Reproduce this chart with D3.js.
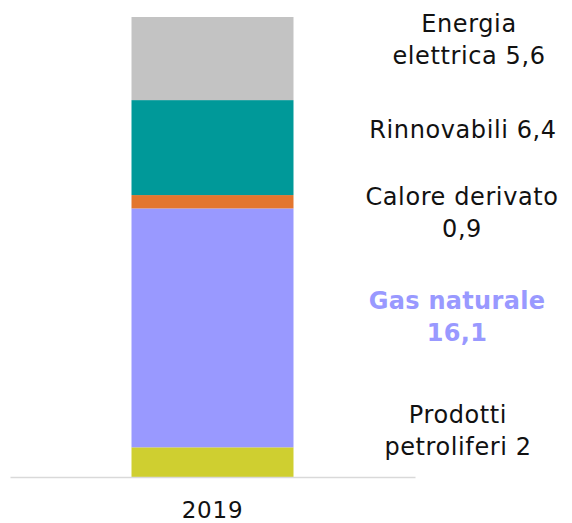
<!DOCTYPE html>
<html lang="en">

<head>
    <meta charset="utf-8">
    <title>Consumi 2019</title>
    <script src="https://d3js.org/d3.v7.min.js"></script>
    <style>
        body {
            margin: 0;
            background: white;
        }

        svg text {
            font-family: "DejaVu Sans", sans-serif;
        }
    </style>
</head>

<body>
    <div id="chart"></div>

    <script>
        // data, bottom to top
        const categories = ['2019'];
        const seriesNames = ['Prodotti petroliferi', 'Gas naturale', 'Calore derivato', 'Rinnovabili', 'Energia elettrica'];
        const seriesValues = [2, 16.1, 0.9, 6.4, 5.6];
        const seriesLabels = [
            ['Prodotti', 'petroliferi 2'],
            ['Gas naturale', '16,1'],
            ['Calore derivato', '0,9'],
            ['Rinnovabili 6,4'],
            ['Energia', 'elettrica 5,6']
        ];

        const colors = ['#cfcf30', '#9999ff', '#e3762e', '#009999', '#c3c3c3'];
        // hand placed labels: centre x and shift from segment middle (px)
        const labelX = [458, 457, 462, 463, 469];
        const labelShift = [-23, -3, 19.5, -9.5, -10.5];

        const width = 572, height = 523;
        const axisY = 477, topY = 17;

        const svg = d3.select('#chart')
            .append('svg')
            .attr('width', width)
            .attr('height', height);

        const stack = [];
        let acc = 0;
        seriesValues.forEach((v, i) => {
            stack.push({ name: seriesNames[i], y0: acc, y1: acc + v, i: i });
            acc += v;
        });

        const x = d3.scaleBand()
            .domain(categories)
            .range([10, 415])
            .paddingInner(0)
            .paddingOuter(0.75);

        const y = d3.scaleLinear()
            .domain([0, d3.sum(seriesValues)])
            .range([axisY, topY]);

        svg.append('g')
            .selectAll('rect')
            .data(stack)
            .join('rect')
            .attr('x', x('2019'))
            .attr('width', x.bandwidth())
            .attr('y', d => y(d.y1))
            .attr('height', d => y(d.y0) - y(d.y1))
            .attr('fill', d => colors[d.i]);

        // baseline axis
        const xAxis = svg.append('g')
            .attr('transform', 'translate(0,' + axisY + ')')
            .call(d3.axisBottom(x).tickSize(0).tickPadding(25));
        xAxis.select('.domain')
            .attr('stroke', '#d9d9d9')
            .attr('stroke-width', 1.5);
        xAxis.selectAll('text')
            .style('font-family', '"DejaVu Sans", sans-serif')
            .style('font-size', '23px')
            .style('letter-spacing', '0.8px')
            .attr('fill', '#111');

        const lineH = 32.5;
        const labelG = svg.append('g');
        stack.forEach(d => {
            const lines = seriesLabels[d.i];
            const mid = (y(d.y0) + y(d.y1)) / 2 + labelShift[d.i];
            const bold = d.i === 1;
            const t = labelG.append('text')
                .attr('text-anchor', 'middle')
                .attr('font-size', '24px')
                .attr('letter-spacing', bold ? '0.3px' : '0.6px')
                .attr('font-weight', bold ? 'bold' : 'normal')
                .attr('fill', bold ? colors[1] : '#111');
            lines.forEach((ln, k) => {
                t.append('tspan')
                    .attr('x', labelX[d.i])
                    .attr('y', mid + (k - (lines.length - 1) / 2) * lineH)
                    .text(ln);
            });
        });
    </script>
</body>

</html>
